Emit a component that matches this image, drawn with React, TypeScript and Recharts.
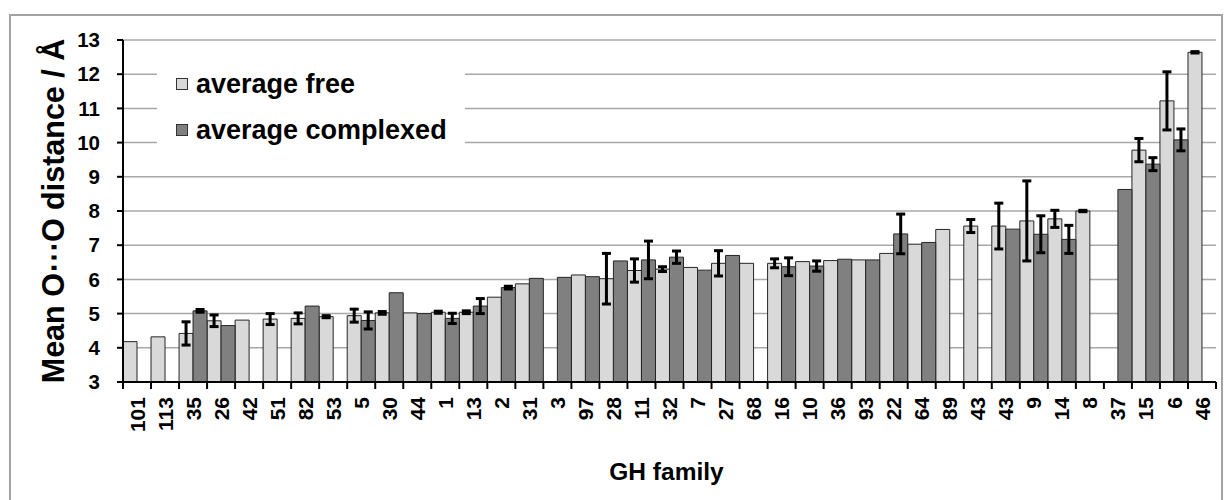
import React from "react";
import { Bar, BarChart, CartesianGrid, ErrorBar, Legend, XAxis, YAxis } from "recharts";

const families = [
  "101", "113", "35", "26", "42", "51", "82", "53", "5", "30",
  "44", "1", "13", "2", "31", "3", "97", "28", "11", "32",
  "7", "27", "68", "16", "10", "36", "93", "22", "64", "89",
  "43", "43", "9", "14", "8", "37", "15", "6", "46",
];

const averageFree = [
  4.18, 4.32, 4.42, 4.79, 4.81, 4.84, 4.86, 4.91, 4.94, 5.02,
  5.02, 5.04, 5.04, 5.48, 5.87, null, 6.13, 6.02, 6.26, 6.3,
  6.35, 6.47, 6.47, 6.47, 6.52, 6.55, 6.57, 6.76, 7.03, 7.46,
  7.56, 7.56, 7.71, 7.77, 8.0, null, 9.78, 11.22, 12.64,
];

const freeError = [
  null, null, 0.34, 0.17, null, 0.16, 0.16, 0.03, 0.19, 0.04,
  null, 0.03, 0.04, null, null, null, null, 0.74, 0.34, 0.07,
  null, 0.37, null, 0.13, null, null, null, null, null, null,
  0.19, 0.67, 1.17, 0.25, 0.02, null, 0.34, 0.85, 0.02,
];

const averageComplexed = [
  null, null, 5.08, 4.65, null, null, 5.22, null, 4.8, 5.61,
  5.0, 4.86, 5.22, 5.76, 6.03, 6.06, 6.08, 6.54, 6.57, 6.65,
  6.27, 6.7, null, 6.37, 6.39, 6.59, 6.57, 7.33, 7.08, null,
  null, 7.47, 7.32, 7.17, null, 8.63, 9.37, 10.08, null,
];

const complexedError = [
  null, null, 0.04, null, null, null, null, null, 0.25, null,
  null, 0.15, 0.22, 0.04, null, null, null, null, 0.55, 0.18,
  null, null, null, 0.26, 0.15, null, null, 0.58, null, null,
  null, null, 0.54, 0.41, null, null, 0.19, 0.32, null,
];

const yTicks = [3, 4, 5, 6, 7, 8, 9, 10, 11, 12, 13];
const legendOrder = ["average free", "average complexed"];

const data = families.map((family, i) => ({
  idx: i,
  family,
  free: averageFree[i],
  freeErr: freeError[i],
  complexed: averageComplexed[i],
  complexedErr: complexedError[i],
}));

const FONT = '"Liberation Sans", Arial, sans-serif';
const WIDTH = 1229;
const HEIGHT = 500;
const MARGIN = { top: 40, right: 13, left: 0, bottom: 0 };
const Y_AXIS_W = 123;
const BAND = (WIDTH - MARGIN.right - Y_AXIS_W) / families.length;

const FamilyTick = (props: any) => {
  const { x, y, payload, index } = props;
  const label = families[payload.value];
  const ty = y + 15;
  return (
    <g>
      <line x1={x - BAND / 2} x2={x - BAND / 2} y1={y} y2={y + 7} stroke="#000" strokeWidth={2} />
      {index === families.length - 1 && (
        <line x1={x + BAND / 2} x2={x + BAND / 2} y1={y} y2={y + 7} stroke="#000" strokeWidth={2} />
      )}
      <text
        x={x}
        y={ty}
        dy="0.36em"
        transform={`rotate(-90 ${x} ${ty})`}
        textAnchor="end"
        fontFamily={FONT}
        fontWeight="bold"
        fontSize={21}
        fill="#000"
      >
        {label}
      </text>
    </g>
  );
};

const YTitle = (props: any) => {
  const { viewBox } = props;
  const cx = viewBox.x + 53;
  const cy = viewBox.y + viewBox.height / 2;
  return (
    <text
      x={cx}
      y={cy}
      transform={`rotate(-90 ${cx} ${cy})`}
      textAnchor="middle"
      dominantBaseline="central"
      fontFamily={FONT}
      fontWeight="bold"
      fontSize={30.5}
      fill="#000"
    >
      Mean O⋯O distance / Å
    </text>
  );
};

const XTitle = (props: any) => {
  const { viewBox } = props;
  const cx = viewBox.x + viewBox.width / 2;
  return (
    <text
      x={cx - 3}
      y={viewBox.y + 98}
      textAnchor="middle"
      fontFamily={FONT}
      fontWeight="bold"
      fontSize={24.5}
      fill="#000"
    >
      GH family
    </text>
  );
};

const renderLegend = (props: any) => {
  const items = [...props.payload].sort(
    (a: any, b: any) => legendOrder.indexOf(a.value) - legendOrder.indexOf(b.value)
  );
  return (
    <div style={{ fontFamily: FONT, fontWeight: "bold", fontSize: 27, paddingTop: 11, paddingLeft: 19 }}>
      {items.map((entry: any) => (
        <div key={entry.value} style={{ display: "flex", alignItems: "center", height: 46 }}>
          <span
            style={{
              display: "inline-block",
              width: 10,
              height: 10,
              background: entry.color,
              border: "1px solid #333",
              marginRight: 8,
            }}
          />
          <span>{entry.value}</span>
        </div>
      ))}
    </div>
  );
};

export default function App() {
  return (
    <div style={{ position: "absolute", left: 0, top: 0, width: WIDTH, height: HEIGHT, background: "#fff", overflow: "hidden" }}>
      <div
        style={{
          position: "absolute",
          left: 9,
          top: 14,
          width: 1214,
          height: 520,
          border: "2px solid #a3a3a3",
          boxSizing: "border-box",
        }}
      />
      <BarChart
        width={WIDTH}
        height={HEIGHT}
        data={data}
        margin={MARGIN}
        barCategoryGap={0}
        barGap={0}
      >
        <CartesianGrid vertical={false} stroke="#a8a8a8" strokeWidth={1.5} />
        <XAxis
          dataKey="idx"
          type="category"
          interval={0}
          height={118}
          tickLine={false}
          tickSize={0}
          tickMargin={0}
          tick={<FamilyTick />}
          axisLine={{ stroke: "#000", strokeWidth: 2 }}
          label={<XTitle />}
        />
        <YAxis
          domain={[3, 13]}
          ticks={yTicks}
          interval={0}
          width={Y_AXIS_W}
          tickSize={6}
          tickMargin={17}
          axisLine={{ stroke: "#000", strokeWidth: 2 }}
          tickLine={{ stroke: "#000", strokeWidth: 2 }}
          tick={{ fontFamily: FONT, fontWeight: "bold", fontSize: 20.5, fill: "#000" }}
          label={<YTitle />}
        />
        <Legend
          layout="vertical"
          align="center"
          verticalAlign="middle"
          content={renderLegend}
          wrapperStyle={{ position: "absolute", left: 157, top: 50, width: 308, height: 110, background: "#fff" }}
        />
        <Bar dataKey="free" name="average free" fill="#d9d9d9" stroke="#262626" strokeWidth={1} isAnimationActive={false}>
          <ErrorBar dataKey="freeErr" width={4.5} strokeWidth={3} stroke="#000" direction="y" />
        </Bar>
        <Bar dataKey="complexed" name="average complexed" fill="#808080" stroke="#262626" strokeWidth={1} isAnimationActive={false}>
          <ErrorBar dataKey="complexedErr" width={4.5} strokeWidth={3} stroke="#000" direction="y" />
        </Bar>
      </BarChart>
    </div>
  );
}
